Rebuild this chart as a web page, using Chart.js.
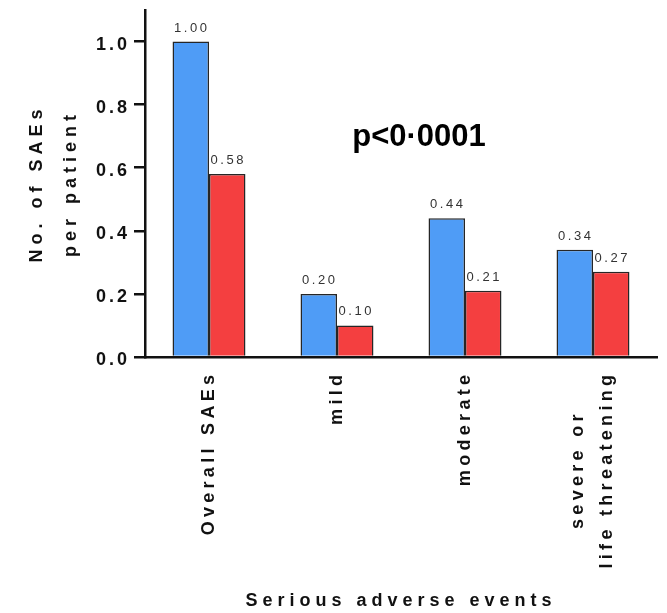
<!DOCTYPE html>
<html>
<head>
<meta charset="utf-8">
<script src="https://cdn.jsdelivr.net/npm/chart.js@4.4.1/dist/chart.umd.min.js"></script>
<style>
  html, body { margin: 0; padding: 0; background: #fff; }
  #wrap { width: 667px; height: 613px; }
</style>
</head>
<body>
<div id="wrap"><canvas id="saeChart" width="667" height="613"></canvas></div>
<script>
const categories = ["Overall SAEs", "mild", "moderate", ["severe or", "life threatening"]];
const blueValues = [1.0, 0.2, 0.44, 0.34];
const redValues = [0.58, 0.1, 0.21, 0.27];
const yTicks = [0, 0.2, 0.4, 0.6, 0.8, 1.0];
const pValueText = "p<0·0001";

const FONT = "'Liberation Sans', Arial, Helvetica, sans-serif";

// spacing for the axis titles (canvas resets it on resize)
const spacingPlugin = {
  id: "spacing",
  beforeUpdate(chart) { chart.ctx.letterSpacing = "5px"; },
  beforeDraw(chart) { chart.ctx.letterSpacing = "5px"; },
};

// tick labels, bar values and the p value
const textPlugin = {
  id: "texts",
  afterDatasetsDraw(chart) {
    const ctx = chart.ctx;
    ctx.save();
    ctx.letterSpacing = "2.5px";
    ctx.font = "13px " + FONT;
    ctx.fillStyle = "#333";
    ctx.textAlign = "center";
    ctx.textBaseline = "alphabetic";
    chart.data.datasets.forEach((ds, i) => {
      chart.getDatasetMeta(i).data.forEach((bar, j) => {
        ctx.fillText(ds.data[j].toFixed(2), bar.x + 1, bar.y - 10);
      });
    });
    ctx.restore();
  },
  afterDraw(chart) {
    const ctx = chart.ctx;
    const ys = chart.scales.y;
    const xs = chart.scales.x;

    // y tick labels
    ctx.save();
    ctx.letterSpacing = "3px";
    ctx.font = "bold 18px " + FONT;
    ctx.fillStyle = "#111";
    ctx.textAlign = "right";
    ctx.textBaseline = "middle";
    ys.ticks.forEach((t) => {
      ctx.fillText(t.value.toFixed(1), 130, ys.getPixelForValue(t.value) + 3);
    });
    ctx.restore();

    // x tick labels, rotated, lines centred on each other
    ctx.save();
    const sp = 4.3;
    ctx.letterSpacing = sp + "px";
    ctx.font = "bold 18px " + FONT;
    ctx.fillStyle = "#111";
    ctx.textAlign = "center";
    ctx.textBaseline = "middle";
    xs.ticks.forEach((t, i) => {
      const lines = [].concat(categories[i]);
      const widths = lines.map((l) => ctx.measureText(l).width - sp);
      const maxW = Math.max(...widths);
      const px = xs.getPixelForTick(i);
      lines.forEach((line, k) => {
        const cx = px + (k - (lines.length - 1) / 2) * 29;
        ctx.save();
        ctx.translate(cx, xs.top + 18 + maxW / 2);
        ctx.rotate(-Math.PI / 2);
        ctx.fillText(line, sp / 2, 0);
        ctx.restore();
      });
    });
    ctx.restore();

    // p value
    ctx.save();
    ctx.letterSpacing = "0px";
    ctx.font = "bold 31px " + FONT;
    ctx.fillStyle = "#000";
    ctx.textAlign = "center";
    ctx.textBaseline = "alphabetic";
    ctx.fillText(pValueText, 419, ys.getPixelForValue(0.67));
    ctx.restore();
  },
};

new Chart(document.getElementById("saeChart"), {
  type: "bar",
  data: {
    labels: categories,
    datasets: [
      {
        label: "Group 1",
        data: blueValues,
        backgroundColor: "#4f9cf6",
        borderColor: "#262626",
        borderWidth: 1.5,
        barPercentage: 1.0,
        categoryPercentage: 0.57,
      },
      {
        label: "Group 2",
        data: redValues,
        backgroundColor: "#f43f40",
        borderColor: "#262626",
        borderWidth: 1.5,
        barPercentage: 1.0,
        categoryPercentage: 0.57,
      },
    ],
  },
  options: {
    responsive: false,
    animation: false,
    layout: { padding: { top: 10, right: 10, left: 0, bottom: 0 } },
    plugins: { legend: { display: false }, tooltip: { enabled: false } },
    scales: {
      x: {
        grid: { display: false, drawTicks: false },
        border: { display: true, color: "#111", width: 2.5 },
        ticks: { display: false, autoSkip: false },
        title: {
          display: true,
          text: "Serious adverse events",
          color: "#111",
          font: { family: FONT, size: 18, weight: "bold" },
          padding: { top: 0, bottom: 1 },
        },
        afterFit(scale) { scale.height = 256; },
      },
      y: {
        min: 0,
        max: 1.1,
        afterBuildTicks(scale) {
          scale.ticks = yTicks.map((v) => ({ value: v }));
        },
        grid: {
          drawOnChartArea: false,
          drawTicks: true,
          tickLength: 11,
          lineWidth: 2.5,
          color: "#111",
        },
        border: { display: true, color: "#111", width: 2.5 },
        ticks: { display: false },
        title: {
          display: true,
          text: ["No. of SAEs", "per patient"],
          color: "#111",
          font: { family: FONT, size: 18, weight: "bold", lineHeight: 1.9 },
          padding: { top: 20, bottom: 0 },
        },
        afterFit(scale) { scale.width = 145; },
      },
    },
  },
  plugins: [spacingPlugin, textPlugin],
});
</script>
</body>
</html>
